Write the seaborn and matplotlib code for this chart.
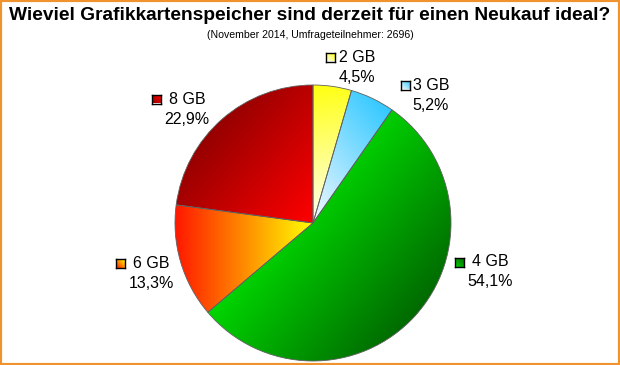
import numpy as np
import matplotlib
matplotlib.use("Agg")
import matplotlib.pyplot as plt
import seaborn as sns
from matplotlib.colors import to_rgb
from matplotlib.patches import Rectangle

# Daten (Umfrage November 2014)
sizes = ["2 GB", "3 GB", "4 GB", "6 GB", "8 GB"]
shares = [4.5, 5.2, 54.1, 13.3, 22.9]
pct_labels = ["4,5%", "5,2%", "54,1%", "13,3%", "22,9%"]

# Farbverlauf je Segment (Start, Ende) und Richtung in Grad
grad_colors = [("#FFFFF0", "#FFFF10"), ("#F4F9FF", "#30C8FF"), ("#00D600", "#006A00"),
               ("#FF1800", "#FFFF00"), ("#960000", "#FF0000")]
grad_dirs = [100, 40, -40, 0, -40]

# Beschriftungen: Mitte des Namens (px) und Mitte des Kästchens (px)
label_pos = [(357, 57), (431, 86), (490, 262), (151, 263), (187, 99)]
box_pos = [(330, 57), (405, 85), (459, 262), (120, 263), (156, 99)]

sns.set_theme(style="white")
plt.rcParams["font.family"] = ["Liberation Sans", "DejaVu Sans"]
plt.rcParams["text.color"] = "black"

W, H = 620, 365
fig = plt.figure(figsize=(W / 100, H / 100), dpi=100)
fig.patch.set_facecolor("white")

cx, cy, r = 313, 223, 138
ax = fig.add_axes([(cx - r) / W, (H - cy - r) / H, 2 * r / W, 2 * r / H])
wedges, _ = ax.pie(shares, startangle=90, counterclock=False, radius=1,
                   wedgeprops=dict(facecolor="none", edgecolor="#606060", linewidth=0.6))

n = 600
xs = np.linspace(-1, 1, n)
X, Y = np.meshgrid(xs, xs)
ang = np.degrees(np.arctan2(Y, X)) % 360
rad = np.hypot(X, Y)

for w, (c0, c1), d in zip(wedges, grad_colors, grad_dirs):
    t1, t2 = w.theta1, w.theta2
    inside = ((ang - t1) % 360 <= (t2 - t1) % 360 + 1e-9) & (rad <= 1.0)
    p = X * np.cos(np.radians(d)) + Y * np.sin(np.radians(d))
    pmin, pmax = p[inside].min(), p[inside].max()
    t = np.clip((p - pmin) / (pmax - pmin), 0, 1)[..., None]
    rgb = (1 - t) * np.array(to_rgb(c0)) + t * np.array(to_rgb(c1))
    im = ax.imshow(rgb, extent=[-1, 1, -1, 1], origin="lower",
                   interpolation="bilinear", zorder=1)
    im.set_clip_path(w)
    w.set_zorder(2)

ax.set_xlim(-1, 1)
ax.set_ylim(-1, 1)
ax.axis("off")

# Titel
fig.text(0.5, 1 - 15 / H, "Wieviel Grafikkartenspeicher sind derzeit für einen Neukauf ideal?",
         ha="center", va="center", fontsize=13.8, fontweight="bold", color="black")
fig.text(0.5, 1 - 35 / H, "(November 2014, Umfrageteilnehmer: 2696)",
         ha="center", va="center", fontsize=7.6, color="black")

# Beschriftungen mit Farbkästchen
for name, pct, (lx, ly), (bx, by), (c0, c1) in zip(sizes, pct_labels, label_pos, box_pos, grad_colors):
    fig.text(lx / W, 1 - ly / H, name, ha="center", va="center", fontsize=11.5, color="black")
    fig.text(lx / W, 1 - (ly + 20) / H, pct, ha="center", va="center", fontsize=11.5, color="black")
    s = 9
    bax = fig.add_axes([(bx - s / 2) / W, 1 - (by + s / 2) / H, s / W, s / H])
    g = np.linspace(0, 1, 16)
    tt = ((g[None, :] + g[::-1, None]) / 2)[..., None]
    bax.imshow((1 - tt) * np.array(to_rgb(c0)) + tt * np.array(to_rgb(c1)),
               aspect="auto", interpolation="bilinear")
    bax.set_xticks([])
    bax.set_yticks([])
    for sp in bax.spines.values():
        sp.set_visible(True)
        sp.set_edgecolor("black")
        sp.set_linewidth(1)

# orangefarbener Rahmen
fig.patches.append(Rectangle((0, 0), 1, 1, transform=fig.transFigure, fill=False,
                             edgecolor="#F0922E", linewidth=3))

fig.savefig("out.png", dpi=100)
